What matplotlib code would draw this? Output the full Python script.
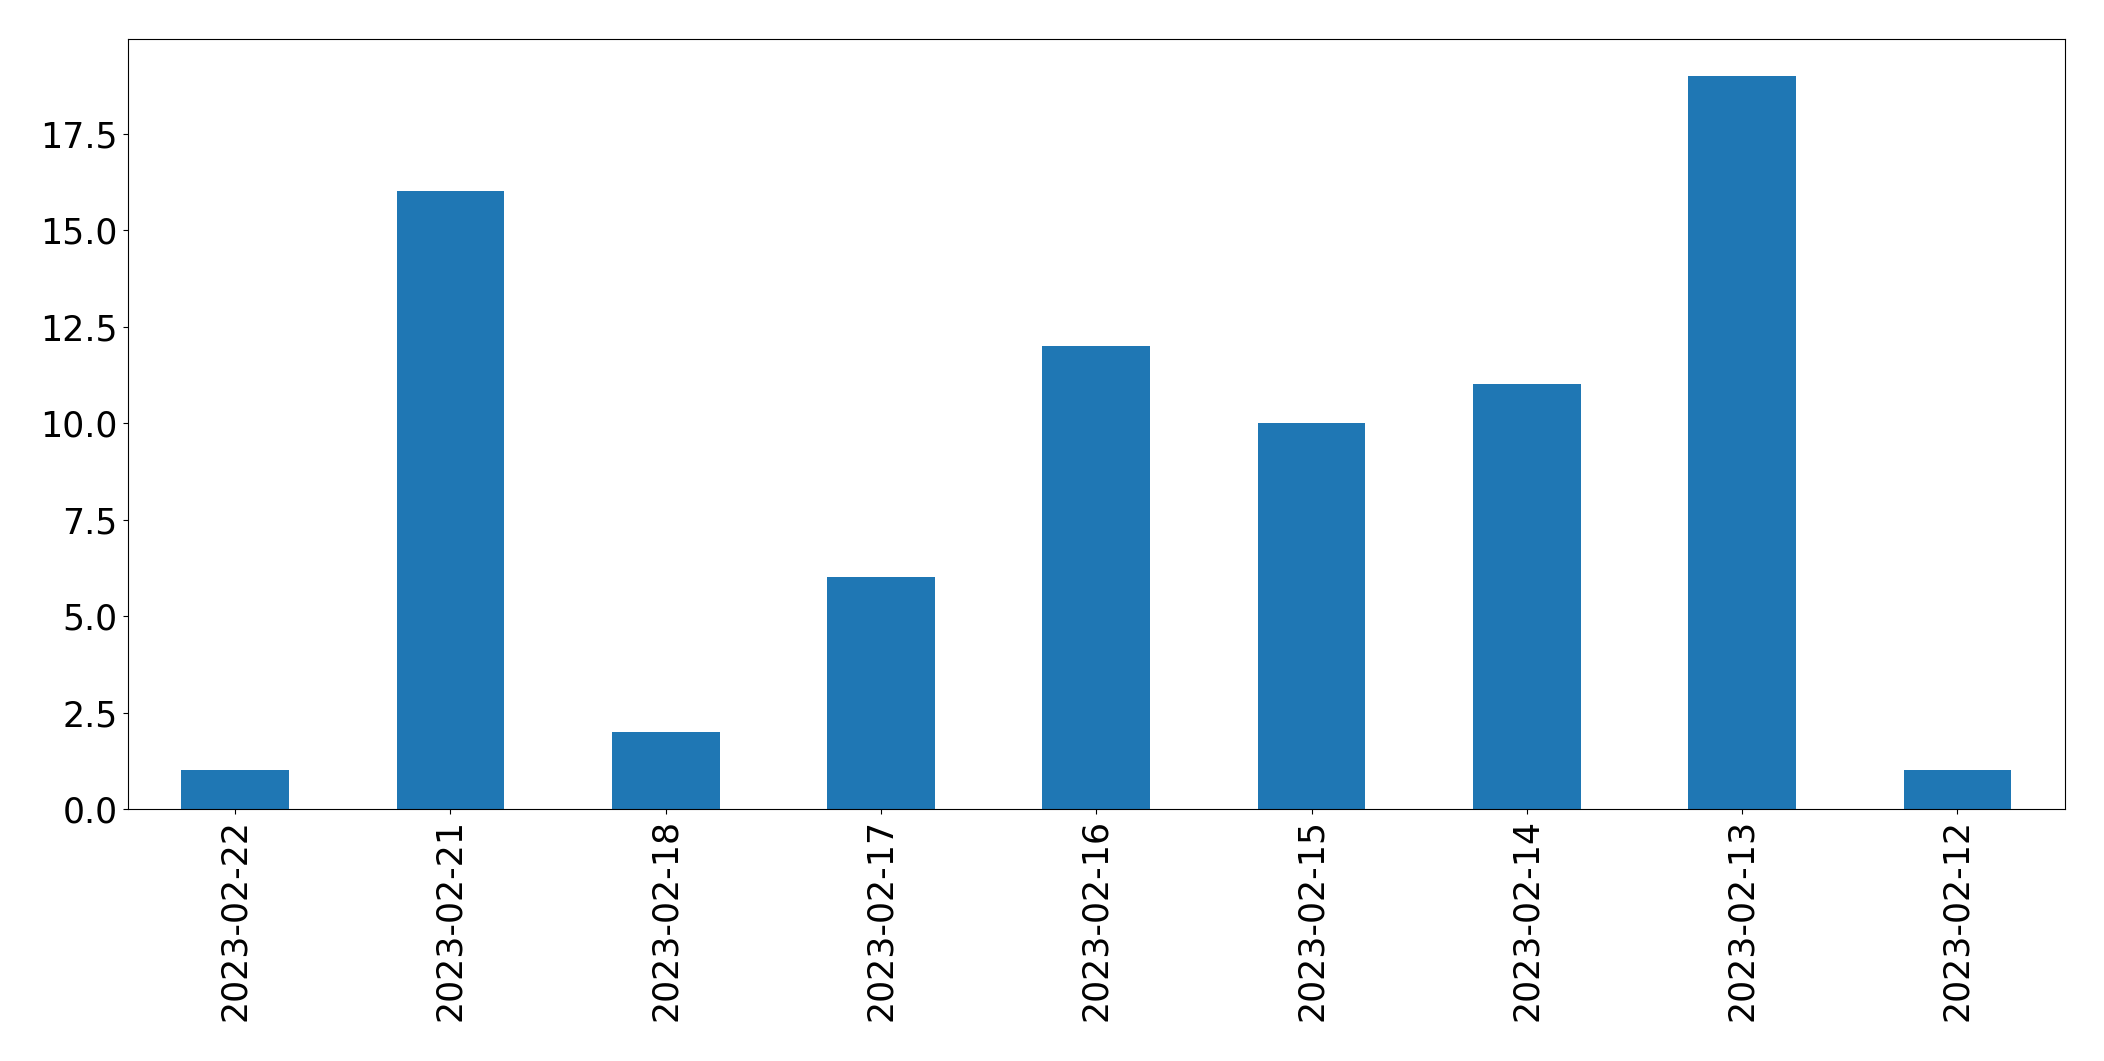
import matplotlib
matplotlib.use("Agg")
import matplotlib.pyplot as plt

dates = ["2023-02-22", "2023-02-21", "2023-02-18", "2023-02-17", "2023-02-16",
         "2023-02-15", "2023-02-14", "2023-02-13", "2023-02-12"]
counts = [1, 16, 2, 6, 12, 10, 11, 19, 1]

fig = plt.figure(figsize=(21.04, 10.61), dpi=100)
ax = fig.add_axes([0.0606, 0.2375, 0.9209, 0.7257])
x = range(len(dates))
ax.bar(x, counts, width=0.5, color="#1f77b4")
ax.set_xticks(list(x))
ax.set_xticklabels(dates, rotation=90)
ax.set_xlim(-0.5, len(dates) - 0.5)
ax.tick_params(labelsize=25)
fig.savefig("out.png", dpi=100)
